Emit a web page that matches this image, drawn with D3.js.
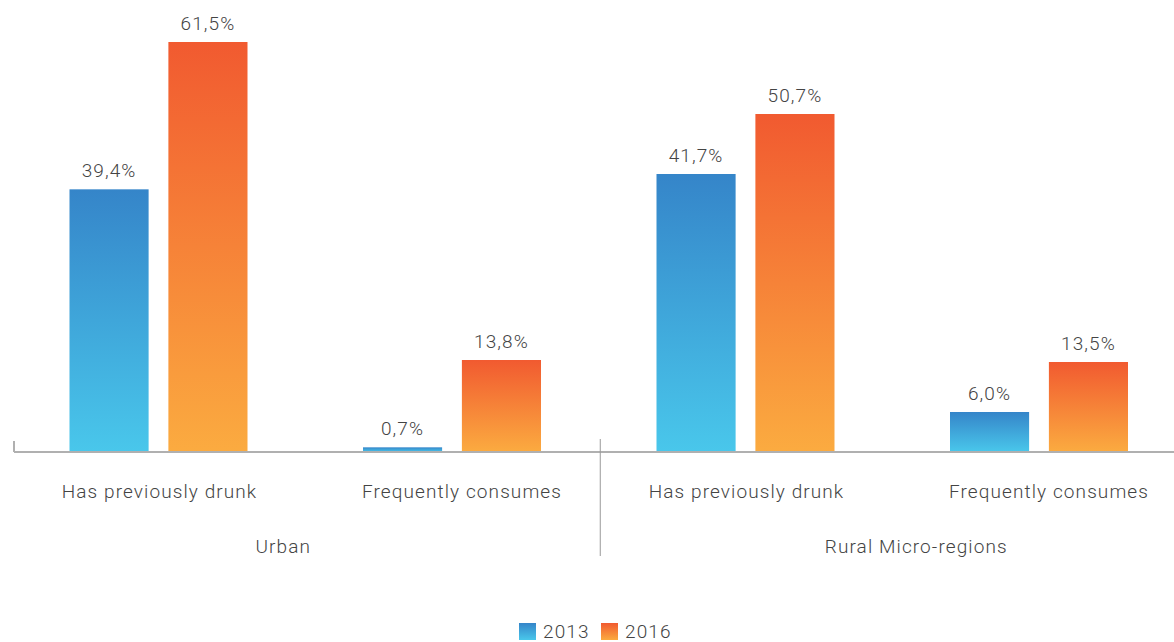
<!DOCTYPE html>
<html>
<head>
<meta charset="utf-8">
<script src="https://cdn.jsdelivr.net/npm/d3@7"></script>
<style>
  body { margin: 0; background: #fff; }
  text { font-family: Roboto, sans-serif; font-weight: 300; fill: #444; letter-spacing: 1.1px; }
</style>
</head>
<body>
<svg id="chart" width="1174" height="642"></svg>
<script>
// data
const groups = ['Urban', 'Rural Micro-regions'];
const categories = ['Has previously drunk', 'Frequently consumes'];
const years = ['2013', '2016'];
const values2013 = [39.4, 0.7, 41.7, 6.0];
const values2016 = [61.5, 13.8, 50.7, 13.5];

const width = 1174;
const height = 642;
const baseY = 452;

const svg = d3.select('#chart');

// one band per (group, category) pair
const keys = [];
groups.forEach(g => categories.forEach(c => keys.push(g + '|' + c)));

const x = d3.scaleBand()
            .domain(keys)
            .range([11.75, 11.75 + 293.5 * keys.length]);

const xInner = d3.scaleBand()
                 .domain(years)
                 .range([0, 178])
                 .paddingInner(0.2);

const y = d3.scaleLinear()
            .domain([0, 61.5])
            .range([baseY, 42]);

// gradients
const defs = svg.append('defs');
const grads = [
  { id: 'g2013', top: '#3585c9', bottom: '#49c7eb' },
  { id: 'g2016', top: '#f15a30', bottom: '#fbab40' }
];
grads.forEach(g => {
  const lg = defs.append('linearGradient')
                 .attr('id', g.id)
                 .attr('x1', 0).attr('y1', 0)
                 .attr('x2', 0).attr('y2', 1);
  lg.append('stop').attr('offset', '0%').attr('stop-color', g.top);
  lg.append('stop').attr('offset', '100%').attr('stop-color', g.bottom);
});

const rows = keys.map((k, i) => ({
  key: k,
  values: [
    { year: '2013', v: values2013[i] },
    { year: '2016', v: values2016[i] }
  ]
}));

const fmt = v => v.toFixed(1).replace('.', ',') + '%';

const bandGroups = svg.selectAll('.band')
  .data(rows)
  .enter().append('g')
  .attr('class', 'band')
  .attr('transform', d => 'translate(' + (x(d.key) + x.bandwidth() / 2 - 89) + ',0)');

bandGroups.selectAll('rect')
  .data(d => d.values)
  .enter().append('rect')
  .attr('x', d => xInner(d.year))
  .attr('y', d => y(d.v))
  .attr('width', xInner.bandwidth())
  .attr('height', d => baseY - y(d.v))
  .attr('fill', d => 'url(#g' + d.year + ')');

bandGroups.selectAll('.val')
  .data(d => d.values)
  .enter().append('text')
  .attr('class', 'val')
  .attr('x', d => xInner(d.year) + xInner.bandwidth() / 2)
  .attr('y', d => y(d.v) - 12)
  .attr('text-anchor', 'middle')
  .style('font-size', '19px')
  .text(d => fmt(d.v));

// axis line
svg.append('line')
   .attr('x1', 14).attr('x2', width)
   .attr('y1', baseY).attr('y2', baseY)
   .attr('stroke', '#b0b0b0').attr('stroke-width', 2);

svg.append('line')
   .attr('x1', 14).attr('x2', 14)
   .attr('y1', 441).attr('y2', baseY)
   .attr('stroke', '#b0b0b0').attr('stroke-width', 2);

// divider between groups
const divX = x(keys[2]) + 1.5;
svg.append('line')
   .attr('x1', divX).attr('x2', divX)
   .attr('y1', 439).attr('y2', 556)
   .attr('stroke', '#999').attr('stroke-width', 1);

// category labels
svg.selectAll('.cat')
  .data(keys)
  .enter().append('text')
  .attr('class', 'cat')
  .attr('x', (d, i) => x(d) + x.bandwidth() / 2 + (i % 2 ? 10 : 1))
  .attr('y', 498)
  .attr('text-anchor', 'middle')
  .style('font-size', '19px')
  .text(d => d.split('|')[1]);

// group labels
const groupOffsets = [-22, 24];
svg.selectAll('.grp')
  .data(groups)
  .enter().append('text')
  .attr('class', 'grp')
  .attr('x', (d, i) => x(keys[i * 2]) + x.bandwidth() + groupOffsets[i])
  .attr('y', 553)
  .attr('text-anchor', 'middle')
  .style('font-size', '19px')
  .text(d => d);

// legend
const legend = svg.append('g')
                  .attr('transform', 'translate(519,622)');
const legendX = [0, 82];
years.forEach((yr, i) => {
  legend.append('rect')
        .attr('x', legendX[i]).attr('y', 1)
        .attr('width', 17).attr('height', 17)
        .attr('fill', 'url(#g' + yr + ')');
  legend.append('text')
        .attr('x', legendX[i] + 24).attr('y', 16)
        .style('font-size', '19px')
        .text(yr);
});
</script>
</body>
</html>
